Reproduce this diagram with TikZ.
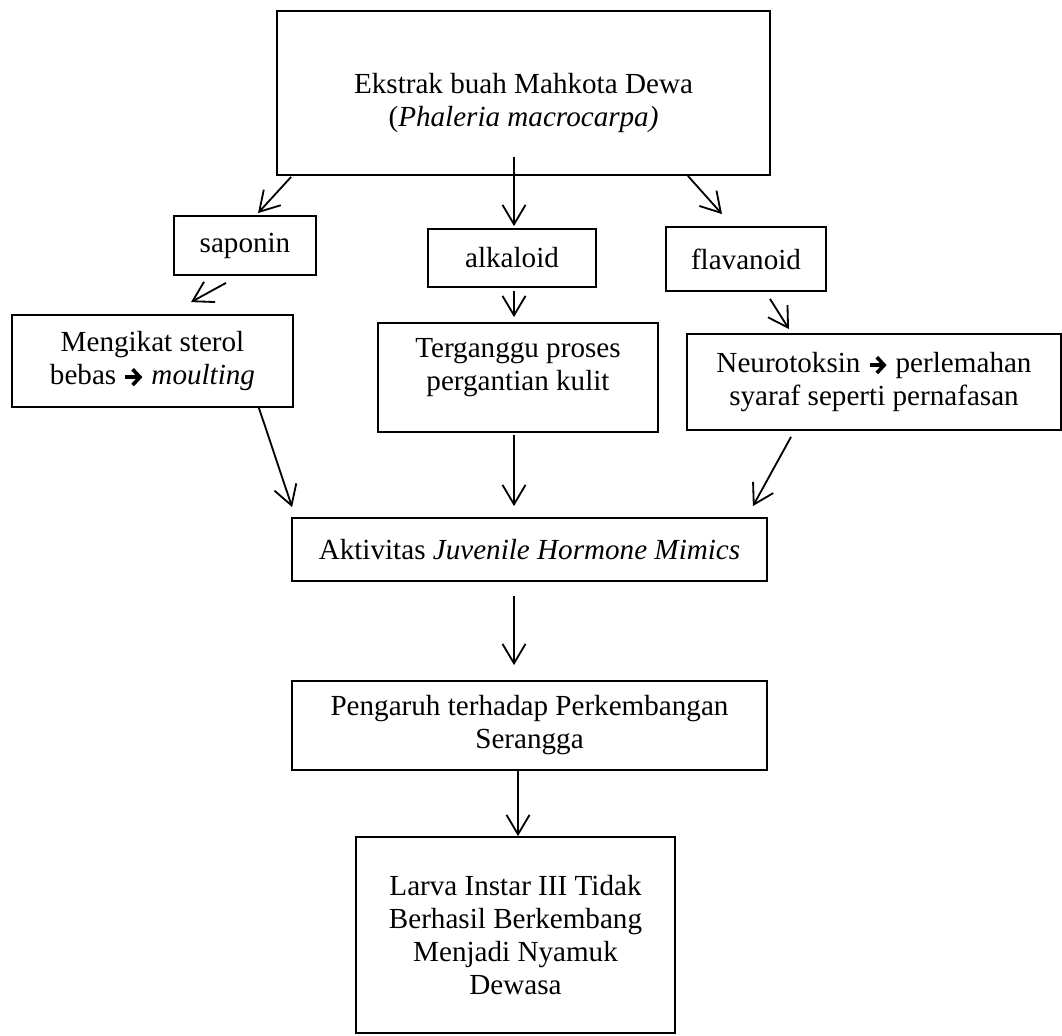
\documentclass[tikz,border=0pt]{standalone}
\usepackage{fontspec}
\setmainfont{Liberation Serif}
\usetikzlibrary{arrows.meta, calc}
\def\px{0.412pt}
\newcommand{\panahkecil}{\tikz[baseline=-0.55ex]\draw[line width=1.5pt,-{Straight Barb[length=3pt,width=6.5pt,line width=1.5pt]}] (0pt,0pt) -- (7pt,0pt);}

\begin{document}
\begin{tikzpicture}[x=\px, y=-\px, font=\fontsize{12}{13.6}\selectfont,
		kotak/.style={draw, line width=0.75pt, align=center, inner sep=0pt},
		panah/.style={-{Straight Barb[length=8pt,width=9.5pt]}, line width=0.75pt}]
		\useasboundingbox (0,0) rectangle (1062,1035);

		% kotak-kotak
		\node[kotak, minimum width=493*\px, minimum height=164*\px] (ekstrak) at (523.5,93) {\mbox{}\\[3pt]Ekstrak buah Mahkota Dewa\\(\textit{Phaleria macrocarpa)}};
		\node[kotak, minimum width=142*\px, minimum height=59*\px] (saponin) at (245,245.5) {saponin};
		\node[kotak, minimum width=168*\px, minimum height=58*\px] (alkaloid) at (512,258) {alkaloid};
		\node[kotak, minimum width=160*\px, minimum height=64*\px] (flavanoid) at (746,259) {flavanoid};
		\node[kotak, minimum width=281*\px, minimum height=92*\px] (mengikat) at (152.5,361) {Mengikat sterol\\bebas \panahkecil{} \textit{moulting}};
		\node[kotak, minimum width=280*\px, minimum height=109*\px] (terganggu) at (518,377.5) {Terganggu proses\\pergantian kulit\\[-3pt]\mbox{}};
		\node[kotak, minimum width=374*\px, minimum height=96*\px] (neuro) at (874,382) {Neurotoksin \panahkecil{} perlemahan\\syaraf seperti pernafasan};
		\node[kotak, minimum width=475*\px, minimum height=63*\px] (aktivitas) at (529.5,549.5) {Aktivitas \textit{Juvenile Hormone Mimics}};
		\node[kotak, minimum width=475*\px, minimum height=89*\px] (pengaruh) at (529.5,725.5) {Pengaruh terhadap Perkembangan\\Serangga};
		\node[kotak, minimum width=319*\px, minimum height=196*\px] (larva) at (515.5,935) {Larva Instar III Tidak\\Berhasil Berkembang\\Menjadi Nyamuk\\Dewasa};

		% panah
		\draw[panah] ($(ekstrak.south west)+(15,1)$) -- ($(saponin.north)+(13,-2)$);
		\draw[panah] ($(ekstrak.south)+(-9.5,-19)$) -- ($(alkaloid.north)+(2,-2)$);
		\draw[panah] ($(ekstrak.south east)+(-83,0)$) -- ($(flavanoid.north)+(-24,-12)$);
		\draw[panah] ($(saponin.south)+(-19,7)$) -- ($(mengikat.north)+(38.5,-12)$);
		\draw[panah] ($(alkaloid.south)+(2,3)$) -- ($(terganggu.north)+(-4,-5)$);
		\draw[panah] ($(flavanoid.south)+(24,7)$) -- ($(neuro.north)+(-85,-4)$);
		\draw[panah] ($(mengikat.south east)+(-35,0)$) -- ($(aktivitas.north west)+(1,-10)$);
		\draw[panah] ($(terganggu.south)+(-4,2)$) -- ($(aktivitas.north)+(-15.5,-11)$);
		\draw[panah] ($(neuro.south)+(-83,6)$) -- ($(aktivitas.north east)+(-15,-11)$);
		\draw[panah] ($(aktivitas.south)+(-15.5,14)$) -- ($(pengaruh.north)+(-15.5,-15)$);
		\draw[panah] ($(pengaruh.south)+(-11.5,0)$) -- ($(larva.north)+(2.5,0)$);
	\end{tikzpicture}
\end{document}
